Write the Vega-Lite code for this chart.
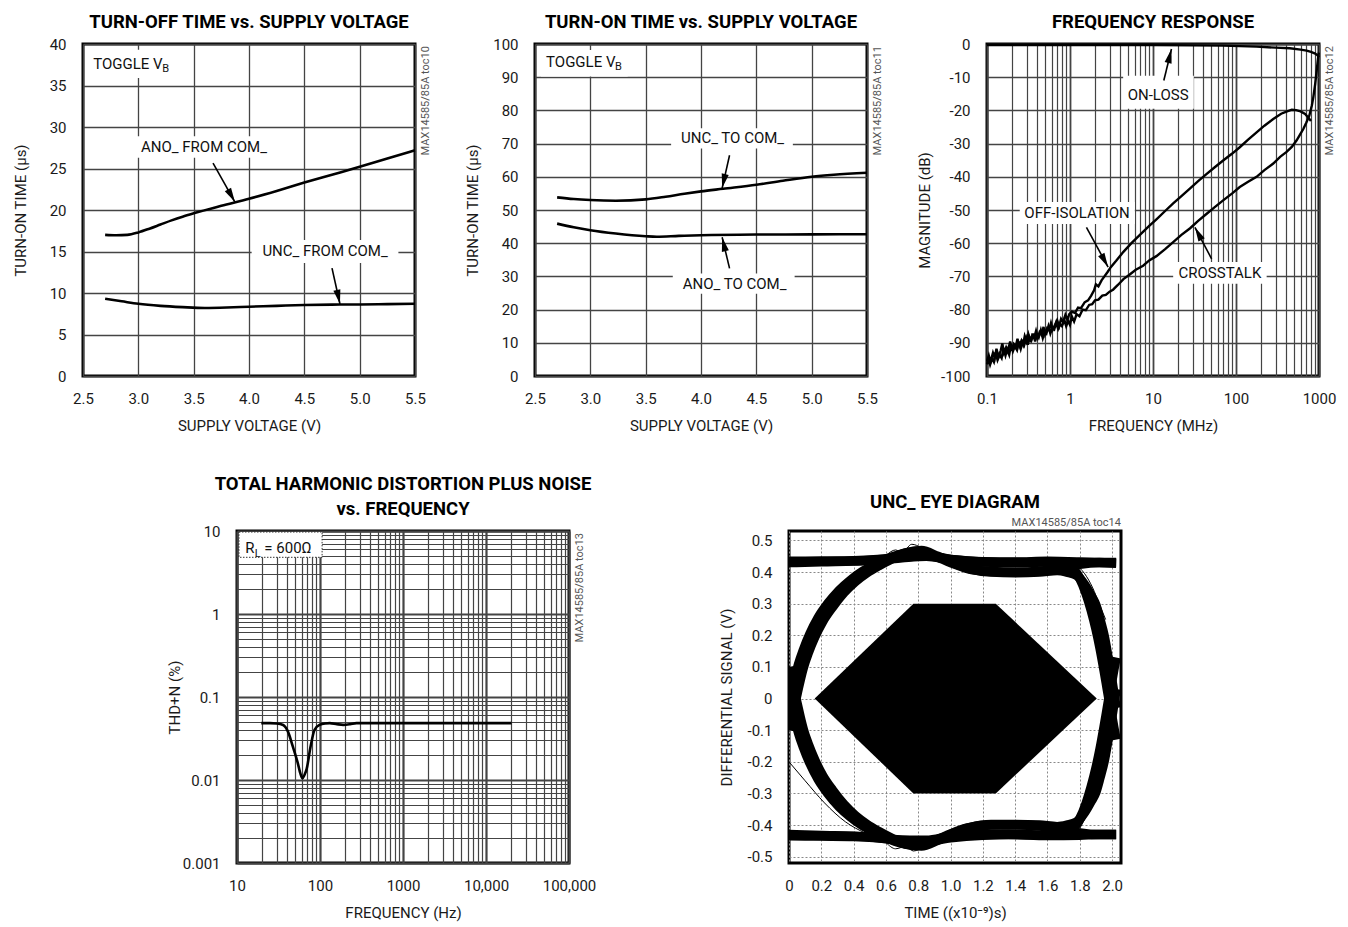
{
"$schema":"https://vega.github.io/schema/vega-lite/v6.json",
"padding":{"left":4,"top":11,"right":6,"bottom":6},
"config":{
 "font":"Roboto, Liberation Sans, sans-serif",
 "view":{"stroke":"black","strokeWidth":3},
 "axis":{"domain":false,"ticks":false,"tickSize":0,"labelFontSize":15,"labelColor":"#1a1a1a","titleFontSize":15,"titleFontWeight":"normal","titleColor":"#1a1a1a","gridColor":"#444","gridWidth":1.3,"gridOpacity":1,"labelOverlap":false,"labelFlush":false},
 "axisX":{"labelPadding":15,"titleY":42},
 "axisY":{"labelPadding":17,"titleX":-55},
 "title":{"fontSize":18.5,"fontWeight":"bold","frame":"group","anchor":"middle","offset":6,"color":"black"}
},
"datasets":{
 "p1":[
  {"s":"ano","x":2.7,"y":17.0},{"s":"ano","x":2.8,"y":16.95},{"s":"ano","x":2.9,"y":17.0},{"s":"ano","x":3.0,"y":17.3},{"s":"ano","x":3.1,"y":17.75},{"s":"ano","x":3.2,"y":18.25},{"s":"ano","x":3.3,"y":18.75},{"s":"ano","x":3.4,"y":19.2},{"s":"ano","x":3.5,"y":19.6},{"s":"ano","x":3.75,"y":20.5},{"s":"ano","x":4.0,"y":21.35},{"s":"ano","x":4.25,"y":22.3},{"s":"ano","x":4.5,"y":23.3},{"s":"ano","x":4.75,"y":24.25},{"s":"ano","x":5.0,"y":25.2},{"s":"ano","x":5.25,"y":26.2},{"s":"ano","x":5.5,"y":27.2},
  {"s":"unc","x":2.7,"y":9.3},{"s":"unc","x":2.85,"y":9.0},{"s":"unc","x":3.0,"y":8.7},{"s":"unc","x":3.2,"y":8.45},{"s":"unc","x":3.4,"y":8.3},{"s":"unc","x":3.6,"y":8.2},{"s":"unc","x":3.8,"y":8.25},{"s":"unc","x":4.0,"y":8.35},{"s":"unc","x":4.25,"y":8.45},{"s":"unc","x":4.5,"y":8.55},{"s":"unc","x":4.75,"y":8.6},{"s":"unc","x":5.0,"y":8.62},{"s":"unc","x":5.25,"y":8.66},{"s":"unc","x":5.5,"y":8.7}
 ],
 "p1box":[{"x":2.545,"x2":3.33,"y":39.3,"y2":35.9},{"x":2.97,"x2":4.205,"y":28.9,"y2":26.3},{"x":4.024,"x2":5.35,"y":16.4,"y2":13.6}],
 "p1lab":[{"x":3.593,"y":27.6,"t":"ANO_ FROM COM_"},{"x":4.687,"y":15.1,"t":"UNC_ FROM COM_"}],
 "p1tog":[{"x":2.593,"y":37.6,"t":"TOGGLE V","sub":"B"}],
 "p1arr":[{"id":"a","x0":3.675,"y0":25.66,"x":3.873,"y":20.96},{"id":"b","x0":4.75,"y0":13.0,"x":4.822,"y":8.67}],
 "p2":[
  {"s":"unc","x":2.7,"y":53.8},{"s":"unc","x":2.85,"y":53.3},{"s":"unc","x":3.0,"y":53.0},{"s":"unc","x":3.23,"y":52.8},{"s":"unc","x":3.5,"y":53.2},{"s":"unc","x":3.68,"y":54.0},{"s":"unc","x":3.85,"y":54.9},{"s":"unc","x":4.0,"y":55.6},{"s":"unc","x":4.2,"y":56.4},{"s":"unc","x":4.5,"y":57.6},{"s":"unc","x":4.74,"y":58.8},{"s":"unc","x":5.0,"y":60.0},{"s":"unc","x":5.2,"y":60.6},{"s":"unc","x":5.5,"y":61.2},
  {"s":"ano","x":2.7,"y":45.9},{"s":"ano","x":2.85,"y":44.8},{"s":"ano","x":3.0,"y":43.9},{"s":"ano","x":3.23,"y":42.9},{"s":"ano","x":3.5,"y":42.1},{"s":"ano","x":3.6,"y":41.95},{"s":"ano","x":3.8,"y":42.2},{"s":"ano","x":4.0,"y":42.4},{"s":"ano","x":4.5,"y":42.6},{"s":"ano","x":5.0,"y":42.65},{"s":"ano","x":5.5,"y":42.7}
 ],
 "p2box":[{"x":2.554,"x2":3.338,"y":98.2,"y2":90.2},{"x":3.73,"x2":4.83,"y":74.6,"y2":68.5},{"x":3.745,"x2":4.846,"y":30.9,"y2":24.8}],
 "p2lab":[{"x":4.285,"y":71.7,"t":"UNC_ TO COM_"},{"x":4.303,"y":27.6,"t":"ANO_ TO COM_"}],
 "p2tog":[{"x":2.6,"y":94.5,"t":"TOGGLE V","sub":"B"}],
 "p2arr":[{"id":"a","x0":4.258,"y0":66.5,"x":4.191,"y":56.6},{"id":"b","x0":4.258,"y0":32.4,"x":4.191,"y":41.8}],
 "p3":[
  {"s":"on","x":0.1,"y":-0.3},{"s":"on","x":1,"y":-0.3},{"s":"on","x":10,"y":-0.3},{"s":"on","x":30,"y":-0.4},{"s":"on","x":70,"y":-0.5},{"s":"on","x":177,"y":-0.8},{"s":"on","x":300,"y":-1.1},{"s":"on","x":447,"y":-1.3},{"s":"on","x":600,"y":-1.7},{"s":"on","x":710,"y":-2.0},{"s":"on","x":800,"y":-2.4},{"s":"on","x":900,"y":-2.9},{"s":"on","x":960,"y":-3.4},{"s":"on","x":1000,"y":-4.0},
  {"s":"off","x":0.1,"y":-95.5},{"s":"off","x":0.105,"y":-93.8},{"s":"off","x":0.11,"y":-95.8},{"s":"off","x":0.118,"y":-93},{"s":"off","x":0.124,"y":-94.6},{"s":"off","x":0.13,"y":-91.8},{"s":"off","x":0.138,"y":-94.2},{"s":"off","x":0.146,"y":-92.4},{"s":"off","x":0.153,"y":-90.2},{"s":"off","x":0.16,"y":-93},{"s":"off","x":0.17,"y":-91.4},{"s":"off","x":0.178,"y":-92.6},{"s":"off","x":0.19,"y":-89.6},{"s":"off","x":0.2,"y":-92.2},{"s":"off","x":0.21,"y":-90.4},{"s":"off","x":0.222,"y":-91.2},{"s":"off","x":0.233,"y":-88.8},{"s":"off","x":0.245,"y":-91},{"s":"off","x":0.26,"y":-89.4},{"s":"off","x":0.272,"y":-90.6},{"s":"off","x":0.285,"y":-88},{"s":"off","x":0.3,"y":-89.6},{"s":"off","x":0.315,"y":-87.4},{"s":"off","x":0.335,"y":-89.8},{"s":"off","x":0.35,"y":-87.8},{"s":"off","x":0.37,"y":-88.6},{"s":"off","x":0.39,"y":-86.4},{"s":"off","x":0.41,"y":-88.4},{"s":"off","x":0.43,"y":-86.8},{"s":"off","x":0.455,"y":-87.6},{"s":"off","x":0.48,"y":-85.2},{"s":"off","x":0.5,"y":-87.4},{"s":"off","x":0.53,"y":-85.6},{"s":"off","x":0.56,"y":-86.2},{"s":"off","x":0.59,"y":-84},{"s":"off","x":0.62,"y":-86},{"s":"off","x":0.66,"y":-84.6},{"s":"off","x":0.7,"y":-83.2},{"s":"off","x":0.74,"y":-85},{"s":"off","x":0.78,"y":-82.8},{"s":"off","x":0.83,"y":-83.8},{"s":"off","x":0.88,"y":-81.6},{"s":"off","x":0.93,"y":-83},{"s":"off","x":0.98,"y":-81.4},{"s":"off","x":1.05,"y":-80.6},{"s":"off","x":1.15,"y":-81},{"s":"off","x":1.25,"y":-79.4},{"s":"off","x":1.35,"y":-79.6},{"s":"off","x":1.5,"y":-77.8},{"s":"off","x":1.65,"y":-77.2},{"s":"off","x":1.8,"y":-75.8},{"s":"off","x":1.95,"y":-74.2},{"s":"off","x":2.05,"y":-72.4},{"s":"off","x":2.2,"y":-73},{"s":"off","x":2.4,"y":-71.2},{"s":"off","x":2.6,"y":-70},{"s":"off","x":2.85,"y":-68.6},{"s":"off","x":3.1,"y":-67.2},{"s":"off","x":3.6,"y":-65.3},{"s":"off","x":4.4,"y":-62.6},{"s":"off","x":5.5,"y":-60},{"s":"off","x":7,"y":-57.4},{"s":"off","x":9,"y":-54.8},{"s":"off","x":11,"y":-52.8},{"s":"off","x":14,"y":-50.3},{"s":"off","x":17.5,"y":-48},{"s":"off","x":22,"y":-45.8},{"s":"off","x":28,"y":-43.5},{"s":"off","x":35,"y":-41.3},{"s":"off","x":44,"y":-39.2},{"s":"off","x":55,"y":-37.2},{"s":"off","x":70,"y":-35.1},{"s":"off","x":90,"y":-33},{"s":"off","x":111,"y":-31.1},{"s":"off","x":140,"y":-28.8},{"s":"off","x":177,"y":-26.6},{"s":"off","x":220,"y":-24.6},{"s":"off","x":281,"y":-22.6},{"s":"off","x":350,"y":-21},{"s":"off","x":420,"y":-20.2},{"s":"off","x":470,"y":-19.8},{"s":"off","x":530,"y":-19.9},{"s":"off","x":600,"y":-20.3},{"s":"off","x":680,"y":-21.1},{"s":"off","x":750,"y":-22.3},{"s":"off","x":800,"y":-23.2},
  {"s":"xt","x":0.1,"y":-96.5},{"s":"xt","x":0.104,"y":-94.6},{"s":"xt","x":0.109,"y":-96.6},{"s":"xt","x":0.115,"y":-94.8},{"s":"xt","x":0.121,"y":-95.8},{"s":"xt","x":0.127,"y":-92.8},{"s":"xt","x":0.134,"y":-95.2},{"s":"xt","x":0.142,"y":-93.6},{"s":"xt","x":0.15,"y":-94.6},{"s":"xt","x":0.158,"y":-91.6},{"s":"xt","x":0.167,"y":-93.8},{"s":"xt","x":0.175,"y":-92},{"s":"xt","x":0.185,"y":-93.6},{"s":"xt","x":0.195,"y":-90.6},{"s":"xt","x":0.205,"y":-92.6},{"s":"xt","x":0.217,"y":-91},{"s":"xt","x":0.23,"y":-92.2},{"s":"xt","x":0.242,"y":-89.6},{"s":"xt","x":0.255,"y":-91.8},{"s":"xt","x":0.268,"y":-89.8},{"s":"xt","x":0.28,"y":-90.8},{"s":"xt","x":0.297,"y":-88.6},{"s":"xt","x":0.31,"y":-90.6},{"s":"xt","x":0.325,"y":-88.2},{"s":"xt","x":0.343,"y":-89.2},{"s":"xt","x":0.362,"y":-87.2},{"s":"xt","x":0.38,"y":-89.6},{"s":"xt","x":0.4,"y":-87.6},{"s":"xt","x":0.42,"y":-88.4},{"s":"xt","x":0.445,"y":-86.2},{"s":"xt","x":0.47,"y":-88.6},{"s":"xt","x":0.495,"y":-86.6},{"s":"xt","x":0.52,"y":-87.2},{"s":"xt","x":0.55,"y":-85},{"s":"xt","x":0.58,"y":-87.2},{"s":"xt","x":0.61,"y":-85.6},{"s":"xt","x":0.645,"y":-86},{"s":"xt","x":0.68,"y":-84},{"s":"xt","x":0.72,"y":-85.8},{"s":"xt","x":0.76,"y":-84.4},{"s":"xt","x":0.8,"y":-85},{"s":"xt","x":0.85,"y":-83},{"s":"xt","x":0.9,"y":-85},{"s":"xt","x":0.95,"y":-83.4},{"s":"xt","x":1.0,"y":-84.6},{"s":"xt","x":1.05,"y":-82},{"s":"xt","x":1.12,"y":-83.6},{"s":"xt","x":1.2,"y":-81.4},{"s":"xt","x":1.3,"y":-82},{"s":"xt","x":1.42,"y":-80},{"s":"xt","x":1.55,"y":-80.2},{"s":"xt","x":1.7,"y":-78.6},{"s":"xt","x":1.85,"y":-78.4},{"s":"xt","x":2.0,"y":-77.2},{"s":"xt","x":2.2,"y":-77},{"s":"xt","x":2.45,"y":-75.8},{"s":"xt","x":2.7,"y":-75.6},{"s":"xt","x":3.0,"y":-74.6},{"s":"xt","x":3.3,"y":-74},{"s":"xt","x":3.8,"y":-72.5},{"s":"xt","x":4.4,"y":-70.8},{"s":"xt","x":5.2,"y":-69.5},{"s":"xt","x":6.2,"y":-68},{"s":"xt","x":7.6,"y":-66.8},{"s":"xt","x":9,"y":-65.2},{"s":"xt","x":11,"y":-63.9},{"s":"xt","x":14,"y":-61.8},{"s":"xt","x":17.5,"y":-59.7},{"s":"xt","x":22,"y":-57.5},{"s":"xt","x":28,"y":-55.5},{"s":"xt","x":35,"y":-53.3},{"s":"xt","x":44,"y":-51.2},{"s":"xt","x":55,"y":-49.2},{"s":"xt","x":70,"y":-47.1},{"s":"xt","x":90,"y":-45},{"s":"xt","x":111,"y":-43.1},{"s":"xt","x":140,"y":-41.5},{"s":"xt","x":177,"y":-40},{"s":"xt","x":220,"y":-38},{"s":"xt","x":281,"y":-36},{"s":"xt","x":340,"y":-34},{"s":"xt","x":407,"y":-32.5},{"s":"xt","x":470,"y":-31},{"s":"xt","x":538,"y":-29},{"s":"xt","x":600,"y":-27},{"s":"xt","x":647,"y":-25.6},{"s":"xt","x":700,"y":-23.8},{"s":"xt","x":764,"y":-21.6},{"s":"xt","x":820,"y":-18.5},{"s":"xt","x":855,"y":-16},{"s":"xt","x":900,"y":-12},{"s":"xt","x":938,"y":-8},{"s":"xt","x":970,"y":-4.6},{"s":"xt","x":995,"y":-2.6}
 ],
 "p3box":[{"x":4.37,"x2":31,"y":-9.6,"y2":-19.5},{"x":0.248,"x2":6.04,"y":-47.6,"y2":-54.2},{"x":17.5,"x2":234,"y":-65.7,"y2":-72.2}],
 "p3lab":[{"x":11.53,"y":-15.3,"t":"ON-LOSS"},{"x":1.217,"y":-50.8,"t":"OFF-ISOLATION"},{"x":64,"y":-68.9,"t":"CROSSTALK"}],
 "p3arr":[{"id":"on","x0":13.5,"y0":-11.0,"x":16.7,"y":-1.5},{"id":"off","x0":1.578,"y0":-55.2,"x":2.877,"y":-67.2},{"id":"xt","x0":50.8,"y0":-64.7,"x":32,"y":-55.2}],
 "p4":[
  {"x":19.6,"y":0.0484},{"x":25,"y":0.0484},{"x":30,"y":0.048},{"x":36,"y":0.046},{"x":41,"y":0.0385},{"x":47,"y":0.0254},{"x":54,"y":0.016},{"x":58,"y":0.012},{"x":61.4,"y":0.0105},{"x":65,"y":0.0115},{"x":69,"y":0.0135},{"x":77,"y":0.0253},{"x":86,"y":0.0403},{"x":99,"y":0.0462},{"x":115,"y":0.048},{"x":131,"y":0.0484},{"x":160,"y":0.047},{"x":190,"y":0.0462},{"x":230,"y":0.047},{"x":275,"y":0.0484},{"x":400,"y":0.0484},{"x":1000,"y":0.0484},{"x":5000,"y":0.0484},{"x":20300,"y":0.0484}
 ],
 "p4box":[{"x":10.57,"x2":106,"y":9.72,"y2":4.82}],
 "p4lab":[{"x":12.6,"y":5.38,"t":"R","sub":"L","rest":"= 600Ω"}],
 "eye":[
  {"s":"HH","x":0,"y":0.43},{"s":"HH","x":0.2,"y":0.433},{"s":"HH","x":0.4,"y":0.435},{"s":"HH","x":0.55,"y":0.438},{"s":"HH","x":0.7,"y":0.445},{"s":"HH","x":0.85,"y":0.45},{"s":"HH","x":1.0,"y":0.44},{"s":"HH","x":1.2,"y":0.433},{"s":"HH","x":1.4,"y":0.432},{"s":"HH","x":1.6,"y":0.434},{"s":"HH","x":1.8,"y":0.432},{"s":"HH","x":1.92,"y":0.43},{"s":"HH","x":2.025,"y":0.428},
  {"s":"HF","x":0,"y":0.434},{"s":"HF","x":0.2,"y":0.435},{"s":"HF","x":0.4,"y":0.436},{"s":"HF","x":0.55,"y":0.44},{"s":"HF","x":0.7,"y":0.448},{"s":"HF","x":0.85,"y":0.452},{"s":"HF","x":1.0,"y":0.44},{"s":"HF","x":1.2,"y":0.432},{"s":"HF","x":1.4,"y":0.43},{"s":"HF","x":1.6,"y":0.432},{"s":"HF","x":1.7,"y":0.428},{"s":"HF","x":1.76,"y":0.41},{"s":"HF","x":1.8,"y":0.38},{"s":"HF","x":1.84,"y":0.33},{"s":"HF","x":1.87,"y":0.28},{"s":"HF","x":1.9,"y":0.22},{"s":"HF","x":1.925,"y":0.16},{"s":"HF","x":1.95,"y":0.09},{"s":"HF","x":1.97,"y":0.03},{"s":"HF","x":1.99,"y":-0.03},{"s":"HF","x":2.01,"y":-0.09},{"s":"HF","x":2.025,"y":-0.13},
  {"s":"RH","x":0,"y":-0.05},{"s":"RH","x":0.02,"y":0.01},{"s":"RH","x":0.04,"y":0.07},{"s":"RH","x":0.06,"y":0.11},{"s":"RH","x":0.09,"y":0.155},{"s":"RH","x":0.13,"y":0.205},{"s":"RH","x":0.18,"y":0.255},{"s":"RH","x":0.24,"y":0.3},{"s":"RH","x":0.31,"y":0.342},{"s":"RH","x":0.38,"y":0.374},{"s":"RH","x":0.45,"y":0.4},{"s":"RH","x":0.52,"y":0.42},{"s":"RH","x":0.6,"y":0.44},{"s":"RH","x":0.7,"y":0.458},{"s":"RH","x":0.8,"y":0.466},{"s":"RH","x":0.9,"y":0.452},{"s":"RH","x":1.0,"y":0.43},{"s":"RH","x":1.1,"y":0.412},{"s":"RH","x":1.25,"y":0.402},{"s":"RH","x":1.4,"y":0.4},{"s":"RH","x":1.55,"y":0.403},{"s":"RH","x":1.68,"y":0.412},{"s":"RH","x":1.8,"y":0.425},{"s":"RH","x":1.92,"y":0.43},{"s":"RH","x":2.025,"y":0.43},
  {"s":"RF","x":0,"y":-0.1},{"s":"RF","x":0.025,"y":-0.04},{"s":"RF","x":0.05,"y":0.015},{"s":"RF","x":0.07,"y":0.06},{"s":"RF","x":0.09,"y":0.1},{"s":"RF","x":0.12,"y":0.145},{"s":"RF","x":0.16,"y":0.195},{"s":"RF","x":0.21,"y":0.245},{"s":"RF","x":0.27,"y":0.29},{"s":"RF","x":0.34,"y":0.335},{"s":"RF","x":0.41,"y":0.37},{"s":"RF","x":0.48,"y":0.397},{"s":"RF","x":0.555,"y":0.42},{"s":"RF","x":0.63,"y":0.44},{"s":"RF","x":0.72,"y":0.46},{"s":"RF","x":0.82,"y":0.468},{"s":"RF","x":0.92,"y":0.45},{"s":"RF","x":1.02,"y":0.428},{"s":"RF","x":1.12,"y":0.41},{"s":"RF","x":1.25,"y":0.4},{"s":"RF","x":1.4,"y":0.398},{"s":"RF","x":1.55,"y":0.4},{"s":"RF","x":1.66,"y":0.405},{"s":"RF","x":1.72,"y":0.4},{"s":"RF","x":1.78,"y":0.39},{"s":"RF","x":1.83,"y":0.36},{"s":"RF","x":1.87,"y":0.325},{"s":"RF","x":1.9,"y":0.295},{"s":"RF","x":1.925,"y":0.25},{"s":"RF","x":1.95,"y":0.2},{"s":"RF","x":1.975,"y":0.13},{"s":"RF","x":1.995,"y":0.07},{"s":"RF","x":2.01,"y":0.02},{"s":"RF","x":2.025,"y":-0.03},
  {"s":"LL","x":0,"y":-0.43},{"s":"LL","x":0.2,"y":-0.433},{"s":"LL","x":0.4,"y":-0.435},{"s":"LL","x":0.55,"y":-0.44},{"s":"LL","x":0.7,"y":-0.448},{"s":"LL","x":0.85,"y":-0.448},{"s":"LL","x":1.0,"y":-0.435},{"s":"LL","x":1.2,"y":-0.428},{"s":"LL","x":1.4,"y":-0.43},{"s":"LL","x":1.6,"y":-0.433},{"s":"LL","x":1.8,"y":-0.432},{"s":"LL","x":1.92,"y":-0.43},{"s":"LL","x":2.025,"y":-0.43},
  {"s":"LR","x":0,"y":-0.434},{"s":"LR","x":0.2,"y":-0.435},{"s":"LR","x":0.4,"y":-0.436},{"s":"LR","x":0.55,"y":-0.44},{"s":"LR","x":0.7,"y":-0.448},{"s":"LR","x":0.85,"y":-0.452},{"s":"LR","x":1.0,"y":-0.44},{"s":"LR","x":1.2,"y":-0.432},{"s":"LR","x":1.4,"y":-0.43},{"s":"LR","x":1.6,"y":-0.432},{"s":"LR","x":1.7,"y":-0.428},{"s":"LR","x":1.76,"y":-0.41},{"s":"LR","x":1.8,"y":-0.38},{"s":"LR","x":1.84,"y":-0.33},{"s":"LR","x":1.87,"y":-0.28},{"s":"LR","x":1.9,"y":-0.22},{"s":"LR","x":1.925,"y":-0.16},{"s":"LR","x":1.95,"y":-0.09},{"s":"LR","x":1.97,"y":-0.03},{"s":"LR","x":1.99,"y":0.03},{"s":"LR","x":2.01,"y":0.09},{"s":"LR","x":2.025,"y":0.13},
  {"s":"FL","x":0,"y":0.05},{"s":"FL","x":0.02,"y":-0.01},{"s":"FL","x":0.04,"y":-0.07},{"s":"FL","x":0.06,"y":-0.11},{"s":"FL","x":0.09,"y":-0.155},{"s":"FL","x":0.13,"y":-0.205},{"s":"FL","x":0.18,"y":-0.255},{"s":"FL","x":0.24,"y":-0.3},{"s":"FL","x":0.31,"y":-0.342},{"s":"FL","x":0.38,"y":-0.374},{"s":"FL","x":0.45,"y":-0.4},{"s":"FL","x":0.52,"y":-0.42},{"s":"FL","x":0.6,"y":-0.44},{"s":"FL","x":0.7,"y":-0.458},{"s":"FL","x":0.8,"y":-0.464},{"s":"FL","x":0.9,"y":-0.45},{"s":"FL","x":1.0,"y":-0.428},{"s":"FL","x":1.1,"y":-0.41},{"s":"FL","x":1.25,"y":-0.4},{"s":"FL","x":1.4,"y":-0.4},{"s":"FL","x":1.55,"y":-0.403},{"s":"FL","x":1.68,"y":-0.412},{"s":"FL","x":1.8,"y":-0.425},{"s":"FL","x":1.92,"y":-0.43},{"s":"FL","x":2.025,"y":-0.43},
  {"s":"FR","x":0,"y":0.1},{"s":"FR","x":0.025,"y":0.04},{"s":"FR","x":0.05,"y":-0.015},{"s":"FR","x":0.07,"y":-0.06},{"s":"FR","x":0.09,"y":-0.1},{"s":"FR","x":0.12,"y":-0.145},{"s":"FR","x":0.16,"y":-0.195},{"s":"FR","x":0.21,"y":-0.245},{"s":"FR","x":0.27,"y":-0.29},{"s":"FR","x":0.34,"y":-0.335},{"s":"FR","x":0.41,"y":-0.37},{"s":"FR","x":0.48,"y":-0.397},{"s":"FR","x":0.555,"y":-0.42},{"s":"FR","x":0.63,"y":-0.44},{"s":"FR","x":0.72,"y":-0.46},{"s":"FR","x":0.82,"y":-0.466},{"s":"FR","x":0.92,"y":-0.448},{"s":"FR","x":1.02,"y":-0.426},{"s":"FR","x":1.12,"y":-0.408},{"s":"FR","x":1.25,"y":-0.398},{"s":"FR","x":1.4,"y":-0.398},{"s":"FR","x":1.55,"y":-0.4},{"s":"FR","x":1.66,"y":-0.405},{"s":"FR","x":1.72,"y":-0.4},{"s":"FR","x":1.78,"y":-0.39},{"s":"FR","x":1.83,"y":-0.36},{"s":"FR","x":1.87,"y":-0.325},{"s":"FR","x":1.9,"y":-0.295},{"s":"FR","x":1.925,"y":-0.25},{"s":"FR","x":1.95,"y":-0.2},{"s":"FR","x":1.975,"y":-0.13},{"s":"FR","x":1.995,"y":-0.07},{"s":"FR","x":2.01,"y":-0.02},{"s":"FR","x":2.025,"y":0.03}
 ],
 "eyethin":[
  {"s":"t1","x":0,"y":-0.2},{"s":"t1","x":0.1,"y":-0.26},{"s":"t1","x":0.22,"y":-0.33},{"s":"t1","x":0.35,"y":-0.39},{"s":"t1","x":0.47,"y":-0.425},
  {"s":"t2","x":1.77,"y":0.425},{"s":"t2","x":1.83,"y":0.395},{"s":"t2","x":1.88,"y":0.35},{"s":"t2","x":1.92,"y":0.3},{"s":"t2","x":1.96,"y":0.25},
  {"s":"t3","x":0.6,"y":0.452},{"s":"t3","x":0.66,"y":0.47},{"s":"t3","x":0.7,"y":0.462},{"s":"t3","x":0.76,"y":0.488},{"s":"t3","x":0.82,"y":0.478},{"s":"t3","x":0.88,"y":0.465},{"s":"t3","x":0.95,"y":0.455},
  {"s":"t4","x":0.6,"y":-0.455},{"s":"t4","x":0.66,"y":-0.475},{"s":"t4","x":0.72,"y":-0.468},{"s":"t4","x":0.77,"y":-0.482},{"s":"t4","x":0.84,"y":-0.47},{"s":"t4","x":0.92,"y":-0.455},
  {"s":"t5","x":1.8,"y":-0.41},{"s":"t5","x":1.86,"y":-0.35},{"s":"t5","x":1.91,"y":-0.28},{"s":"t5","x":1.95,"y":-0.2},{"s":"t5","x":1.99,"y":-0.12},{"s":"t5","x":2.02,"y":-0.06}
 ],
 "hex":[{"x":0.159,"y":0,"y2":0},{"x":0.77,"y":0.3,"y2":-0.3},{"x":1.28,"y":0.3,"y2":-0.3},{"x":1.905,"y":0,"y2":0}]
},
"spacing":38,
"vconcat":[
 {"spacing":0,"hconcat":[
  {"width":1,"height":10,"view":{"stroke":null},"data":{"values":[{"a":1}]},"mark":{"type":"point","opacity":0}},
  {"spacing":30,"hconcat":[
  {"width":332,"height":332,"title":{"text":"TURN-OFF TIME vs. SUPPLY VOLTAGE"},
   "layer":[
    {"data":{"name":"p1box"},"mark":{"type":"rect","fill":"white"},
     "encoding":{"x":{"field":"x","type":"quantitative","scale":{"domain":[2.5,5.5],"nice":false,"zero":false},"axis":{"title":"SUPPLY VOLTAGE (V)","tickCount":100,"values":[2.5,3,3.5,4,4.5,5,5.5],"labelExpr":"format(datum.value, '.1f')"}},"x2":{"field":"x2"},
      "y":{"field":"y","type":"quantitative","scale":{"domain":[0,40],"nice":false,"zero":false},"axis":{"title":"TURN-ON TIME (µs)","tickCount":100,"values":[0,5,10,15,20,25,30,35,40],"labelExpr":"'' + datum.value"}},"y2":{"field":"y2"}}},
    {"data":{"name":"p1"},"mark":{"type":"line","color":"black","strokeWidth":2.6,"interpolate":"monotone"},
     "encoding":{"x":{"field":"x","type":"quantitative"},"y":{"field":"y","type":"quantitative"},"detail":{"field":"s"}}},
    {"data":{"name":"p1lab"},"mark":{"type":"text","fontSize":15,"align":"center","baseline":"middle","color":"#111"},
     "encoding":{"x":{"field":"x","type":"quantitative"},"y":{"field":"y","type":"quantitative"},"text":{"field":"t"}}},
    {"data":{"name":"p1tog"},"mark":{"type":"text","fontSize":15,"align":"left","baseline":"middle","color":"#111"},
     "encoding":{"x":{"field":"x","type":"quantitative"},"y":{"field":"y","type":"quantitative"},"text":{"field":"t"}}},
    {"data":{"name":"p1tog"},"mark":{"type":"text","fontSize":11,"align":"left","baseline":"middle","dx":69,"dy":5,"color":"#111"},
     "encoding":{"x":{"field":"x","type":"quantitative"},"y":{"field":"y","type":"quantitative"},"text":{"field":"sub"}}},
    {"data":{"name":"p1arr"},"mark":{"type":"rule","color":"black","strokeWidth":1.6},
     "encoding":{"x":{"field":"x0","type":"quantitative"},"y":{"field":"y0","type":"quantitative"},"x2":{"field":"x"},"y2":{"field":"y"}}},
    {"data":{"name":"p1arr"},"transform":[{"filter":"datum.id == 'a'"}],"mark":{"type":"point","shape":"M0,0L0.55,2.2L-0.55,2.2Z","size":169,"filled":true,"color":"black","opacity":1,"strokeWidth":0,"angle":150.6},
     "encoding":{"x":{"field":"x","type":"quantitative"},"y":{"field":"y","type":"quantitative"}}},
    {"data":{"name":"p1arr"},"transform":[{"filter":"datum.id == 'b'"}],"mark":{"type":"point","shape":"M0,0L0.55,2.2L-0.55,2.2Z","size":169,"filled":true,"color":"black","opacity":1,"strokeWidth":0,"angle":167.5},
     "encoding":{"x":{"field":"x","type":"quantitative"},"y":{"field":"y","type":"quantitative"}}},
    {"data":{"values":[{"x":5.5,"y":40,"t":"MAX14585/85A toc10"}]},"mark":{"type":"text","fontSize":11,"angle":270,"align":"right","baseline":"top","dy":5,"dx":-2,"color":"#555"},
     "encoding":{"x":{"field":"x","type":"quantitative"},"y":{"field":"y","type":"quantitative"},"text":{"field":"t"}}}
   ]},
  {"width":332,"height":332,"title":{"text":"TURN-ON TIME vs. SUPPLY VOLTAGE"},
   "layer":[
    {"data":{"name":"p2box"},"mark":{"type":"rect","fill":"white"},
     "encoding":{"x":{"field":"x","type":"quantitative","scale":{"domain":[2.5,5.5],"nice":false,"zero":false},"axis":{"title":"SUPPLY VOLTAGE (V)","tickCount":100,"values":[2.5,3,3.5,4,4.5,5,5.5],"labelExpr":"format(datum.value, '.1f')"}},"x2":{"field":"x2"},
      "y":{"field":"y","type":"quantitative","scale":{"domain":[0,100],"nice":false,"zero":false},"axis":{"title":"TURN-ON TIME (µs)","tickCount":100,"values":[0,10,20,30,40,50,60,70,80,90,100],"labelExpr":"'' + datum.value"}},"y2":{"field":"y2"}}},
    {"data":{"name":"p2"},"mark":{"type":"line","color":"black","strokeWidth":2.6,"interpolate":"monotone"},
     "encoding":{"x":{"field":"x","type":"quantitative"},"y":{"field":"y","type":"quantitative"},"detail":{"field":"s"}}},
    {"data":{"name":"p2lab"},"mark":{"type":"text","fontSize":15,"align":"center","baseline":"middle","color":"#111"},
     "encoding":{"x":{"field":"x","type":"quantitative"},"y":{"field":"y","type":"quantitative"},"text":{"field":"t"}}},
    {"data":{"name":"p2tog"},"mark":{"type":"text","fontSize":15,"align":"left","baseline":"middle","color":"#111"},
     "encoding":{"x":{"field":"x","type":"quantitative"},"y":{"field":"y","type":"quantitative"},"text":{"field":"t"}}},
    {"data":{"name":"p2tog"},"mark":{"type":"text","fontSize":11,"align":"left","baseline":"middle","dx":69,"dy":5,"color":"#111"},
     "encoding":{"x":{"field":"x","type":"quantitative"},"y":{"field":"y","type":"quantitative"},"text":{"field":"sub"}}},
    {"data":{"name":"p2arr"},"mark":{"type":"rule","color":"black","strokeWidth":1.6},
     "encoding":{"x":{"field":"x0","type":"quantitative"},"y":{"field":"y0","type":"quantitative"},"x2":{"field":"x"},"y2":{"field":"y"}}},
    {"data":{"name":"p2arr"},"transform":[{"filter":"datum.id == 'a'"}],"mark":{"type":"point","shape":"M0,0L0.55,2.2L-0.55,2.2Z","size":169,"filled":true,"color":"black","opacity":1,"strokeWidth":0,"angle":192.4},
     "encoding":{"x":{"field":"x","type":"quantitative"},"y":{"field":"y","type":"quantitative"}}},
    {"data":{"name":"p2arr"},"transform":[{"filter":"datum.id == 'b'"}],"mark":{"type":"point","shape":"M0,0L0.55,2.2L-0.55,2.2Z","size":169,"filled":true,"color":"black","opacity":1,"strokeWidth":0,"angle":347},
     "encoding":{"x":{"field":"x","type":"quantitative"},"y":{"field":"y","type":"quantitative"}}},
    {"data":{"values":[{"x":5.5,"y":100,"t":"MAX14585/85A toc11"}]},"mark":{"type":"text","fontSize":11,"angle":270,"align":"right","baseline":"top","dy":5,"dx":-2,"color":"#555"},
     "encoding":{"x":{"field":"x","type":"quantitative"},"y":{"field":"y","type":"quantitative"},"text":{"field":"t"}}}
   ]},
  {"width":332,"height":332,"title":{"text":"FREQUENCY RESPONSE"},
   "layer":[
    {"data":{"name":"p3box"},"mark":{"type":"rect","fill":"white"},
     "encoding":{"x":{"field":"x","type":"quantitative","scale":{"type":"log","domain":[0.1,1000],"nice":false},"axis":{"title":"FREQUENCY (MHz)","tickCount":100,"values":[0.1,0.2,0.3,0.4,0.5,0.6,0.7,0.8,0.9,1,2,3,4,5,6,7,8,9,10,20,30,40,50,60,70,80,90,100,200,300,400,500,600,700,800,900,1000],"labelExpr":"indexof([0.1,1,10,100,1000], datum.value) >= 0 ? '' + datum.value : ''","gridWidth":{"condition":{"test":"indexof([0.1,1,10,100,1000], datum.value) >= 0","value":1.8},"value":1.2}}},"x2":{"field":"x2"},
      "y":{"field":"y","type":"quantitative","scale":{"domain":[-100,0],"nice":false,"zero":false},"axis":{"title":"MAGNITUDE (dB)","tickCount":100,"values":[-100,-90,-80,-70,-60,-50,-40,-30,-20,-10,0],"labelExpr":"'' + datum.value"}},"y2":{"field":"y2"}}},
    {"data":{"name":"p3"},"mark":{"type":"line","color":"black","strokeWidth":2.4},
     "encoding":{"x":{"field":"x","type":"quantitative"},"y":{"field":"y","type":"quantitative"},"detail":{"field":"s"}}},
    {"data":{"name":"p3lab"},"mark":{"type":"text","fontSize":15,"align":"center","baseline":"middle","color":"#111"},
     "encoding":{"x":{"field":"x","type":"quantitative"},"y":{"field":"y","type":"quantitative"},"text":{"field":"t"}}},
    {"data":{"name":"p3arr"},"mark":{"type":"rule","color":"black","strokeWidth":1.6},
     "encoding":{"x":{"field":"x0","type":"quantitative"},"y":{"field":"y0","type":"quantitative"},"x2":{"field":"x"},"y2":{"field":"y"}}},
    {"data":{"name":"p3arr"},"transform":[{"filter":"datum.id == 'on'"}],"mark":{"type":"point","shape":"M0,0L0.55,2.2L-0.55,2.2Z","size":169,"filled":true,"color":"black","opacity":1,"strokeWidth":0,"angle":13.6},
     "encoding":{"x":{"field":"x","type":"quantitative"},"y":{"field":"y","type":"quantitative"}}},
    {"data":{"name":"p3arr"},"transform":[{"filter":"datum.id == 'off'"}],"mark":{"type":"point","shape":"M0,0L0.55,2.2L-0.55,2.2Z","size":169,"filled":true,"color":"black","opacity":1,"strokeWidth":0,"angle":151.6},
     "encoding":{"x":{"field":"x","type":"quantitative"},"y":{"field":"y","type":"quantitative"}}},
    {"data":{"name":"p3arr"},"transform":[{"filter":"datum.id == 'xt'"}],"mark":{"type":"point","shape":"M0,0L0.55,2.2L-0.55,2.2Z","size":169,"filled":true,"color":"black","opacity":1,"strokeWidth":0,"angle":332.2},
     "encoding":{"x":{"field":"x","type":"quantitative"},"y":{"field":"y","type":"quantitative"}}},
    {"data":{"values":[{"x":1000,"y":0,"t":"MAX14585/85A toc12"}]},"mark":{"type":"text","fontSize":11,"angle":270,"align":"right","baseline":"top","dy":5,"dx":-2,"color":"#555"},
     "encoding":{"x":{"field":"x","type":"quantitative"},"y":{"field":"y","type":"quantitative"},"text":{"field":"t"}}}
   ]}
  ]}
 ]},
 {"spacing":0,"hconcat":[
  {"width":158,"height":10,"view":{"stroke":null},"data":{"values":[{"a":1}]},"mark":{"type":"point","opacity":0}},
  {"spacing":119,"hconcat":[
  {"width":332,"height":332,"title":{"text":["TOTAL HARMONIC DISTORTION PLUS NOISE","vs. FREQUENCY"],"lineHeight":25},
   "layer":[
    {"data":{"name":"p4box"},"mark":{"type":"rect","fill":"white","stroke":"#333","strokeWidth":1,"strokeDash":[1.5,1.5]},
     "encoding":{"x":{"field":"x","type":"quantitative","scale":{"type":"log","domain":[10,100000],"nice":false},"axis":{"title":"FREQUENCY (Hz)","tickCount":100,"values":[10,20,30,40,50,60,70,80,90,100,200,300,400,500,600,700,800,900,1000,2000,3000,4000,5000,6000,7000,8000,9000,10000,20000,30000,40000,50000,60000,70000,80000,90000,100000],"labelExpr":"datum.value == 10000 ? '10,000' : datum.value == 100000 ? '100,000' : indexof([10,100,1000], datum.value) >= 0 ? '' + datum.value : ''","gridWidth":{"condition":{"test":"indexof([10,100,1000,10000,100000], datum.value) >= 0","value":2.2},"value":1.2}}},"x2":{"field":"x2"},
      "y":{"field":"y","type":"quantitative","scale":{"type":"log","domain":[0.001,10],"nice":false},"axis":{"title":"THD+N (%)","tickCount":100,"values":[0.001,0.002,0.003,0.004,0.005,0.006,0.007,0.008,0.009,0.01,0.02,0.03,0.04,0.05,0.06,0.07,0.08,0.09,0.1,0.2,0.3,0.4,0.5,0.6,0.7,0.8,0.9,1,2,3,4,5,6,7,8,9,10],"labelExpr":"indexof([0.001,0.01,0.1,1,10], datum.value) >= 0 ? '' + datum.value : ''","gridWidth":{"condition":{"test":"indexof([0.001,0.01,0.1,1,10], datum.value) >= 0","value":2.2},"value":1.2}}},"y2":{"field":"y2"}}},
    {"data":{"name":"p4"},"mark":{"type":"line","color":"black","strokeWidth":2.6,"interpolate":"monotone"},
     "encoding":{"x":{"field":"x","type":"quantitative"},"y":{"field":"y","type":"quantitative"}}},
    {"data":{"name":"p4lab"},"mark":{"type":"text","fontSize":15,"align":"left","baseline":"alphabetic","color":"#111"},
     "encoding":{"x":{"field":"x","type":"quantitative"},"y":{"field":"y","type":"quantitative"},"text":{"field":"t"}}},
    {"data":{"name":"p4lab"},"mark":{"type":"text","fontSize":11,"align":"left","baseline":"alphabetic","dx":9.5,"dy":4,"color":"#111"},
     "encoding":{"x":{"field":"x","type":"quantitative"},"y":{"field":"y","type":"quantitative"},"text":{"field":"sub"}}},
    {"data":{"name":"p4lab"},"mark":{"type":"text","fontSize":15,"align":"left","baseline":"alphabetic","dx":19,"color":"#111"},
     "encoding":{"x":{"field":"x","type":"quantitative"},"y":{"field":"y","type":"quantitative"},"text":{"field":"rest"}}},
    {"data":{"values":[{"x":100000,"y":10,"t":"MAX14585/85A toc13"}]},"mark":{"type":"text","fontSize":11,"angle":270,"align":"right","baseline":"top","dy":5,"dx":-2,"color":"#555"},
     "encoding":{"x":{"field":"x","type":"quantitative"},"y":{"field":"y","type":"quantitative"},"text":{"field":"t"}}}
   ]},
  {"width":332,"height":332,"title":{"text":"UNC_ EYE DIAGRAM"},
   "layer":[
    {"data":{"name":"eye"},"mark":{"type":"line","color":"black","strokeWidth":9.5,"interpolate":"monotone","clip":true,"strokeJoin":"round"},
     "encoding":{"x":{"field":"x","type":"quantitative","scale":{"domain":[0,2.055],"nice":false,"zero":false},"axis":{"title":"TIME ((x10⁻⁹)s)","tickCount":100,"values":[0,0.2,0.4,0.6,0.8,1,1.2,1.4,1.6,1.8,2],"labelExpr":"datum.value == 0 ? '0' : format(datum.value, '.1f')","gridDash":[2,2],"gridColor":"#888","gridWidth":1}},
      "y":{"field":"y","type":"quantitative","scale":{"domain":[-0.52,0.53],"nice":false,"zero":false},"axis":{"title":"DIFFERENTIAL SIGNAL (V)","tickCount":100,"values":[-0.5,-0.4,-0.3,-0.2,-0.1,0,0.1,0.2,0.3,0.4,0.5],"labelExpr":"'' + datum.value","gridDash":[2,2],"gridColor":"#888","gridWidth":1}},
      "detail":{"field":"s"}}},
    {"data":{"name":"eyethin"},"mark":{"type":"line","color":"black","strokeWidth":1,"interpolate":"monotone","clip":true},
     "encoding":{"x":{"field":"x","type":"quantitative"},"y":{"field":"y","type":"quantitative"},"detail":{"field":"s"}}},
    {"data":{"name":"hex"},"mark":{"type":"area","color":"black","opacity":1},
     "encoding":{"x":{"field":"x","type":"quantitative"},"y":{"field":"y","type":"quantitative"},"y2":{"field":"y2"}}},
    {"data":{"values":[{"x":2.055,"y":0.53,"t":"MAX14585/85A toc14"}]},"mark":{"type":"text","fontSize":11,"align":"right","baseline":"bottom","dy":-3,"color":"#555"},
     "encoding":{"x":{"field":"x","type":"quantitative"},"y":{"field":"y","type":"quantitative"},"text":{"field":"t"}}}
   ]}
  ]}
 ]}
]
}
